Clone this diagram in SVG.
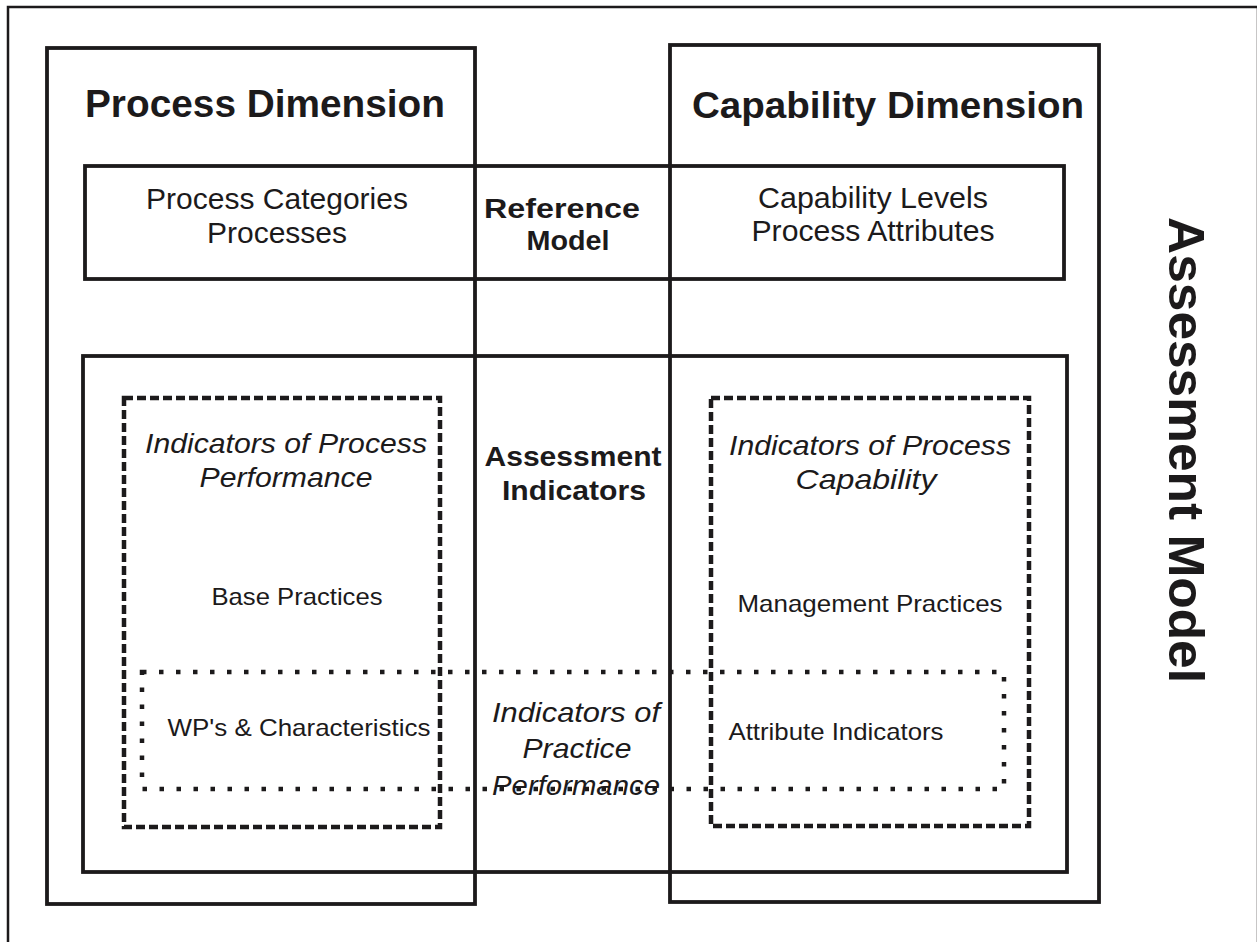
<svg xmlns="http://www.w3.org/2000/svg" width="1257" height="942" viewBox="0 0 1257 942">
<style>
.box{fill:none;stroke:#1c1a1b;stroke-width:3.8}
.frame{fill:none;stroke:#1c1a1b;stroke-width:2.5}
.dash{fill:none;stroke:#1c1a1b;stroke-width:4.5;stroke-dasharray:9 4}
.dot{fill:none;stroke:#1c1a1b;stroke-width:4.5;stroke-dasharray:4.5 12.5}
text{font-family:"Liberation Sans",Arial,sans-serif;fill:#1c1a1b;text-anchor:middle}
.h{font-weight:bold;font-size:38px}
.r{font-size:29px}
.b{font-weight:bold;font-size:27px}
.i{font-style:italic;font-size:28px}
.s{font-size:24px}
</style>
<rect width="1257" height="942" fill="#fff"/>
<g id="assessment-model">
<rect class="frame" x="8" y="7" width="1250" height="960"/>
<text class="h" transform="translate(1169,450) rotate(90)" textLength="466" lengthAdjust="spacingAndGlyphs" style="font-size:50px">Assessment Model</text>
</g>
<g id="process-dimension">
<rect class="box" x="47" y="48" width="428" height="856"/>
<text class="h" x="265" y="117" textLength="360" lengthAdjust="spacingAndGlyphs">Process Dimension</text>
</g>
<g id="capability-dimension">
<rect class="box" x="670" y="45" width="429" height="857"/>
<text class="h" x="888" y="118" textLength="392" lengthAdjust="spacingAndGlyphs" style="font-size:36px">Capability Dimension</text>
</g>
<g id="reference-model">
<rect class="box" x="85" y="166" width="979" height="113"/>
<text class="r" x="277" y="209" textLength="262" lengthAdjust="spacingAndGlyphs">Process Categories</text>
<text class="r" x="277" y="243" textLength="140" lengthAdjust="spacingAndGlyphs">Processes</text>
<text class="b" x="562" y="218" textLength="156" lengthAdjust="spacingAndGlyphs">Reference</text>
<text class="b" x="568" y="250" textLength="83" lengthAdjust="spacingAndGlyphs">Model</text>
<text class="r" x="873" y="208" textLength="230" lengthAdjust="spacingAndGlyphs">Capability Levels</text>
<text class="r" x="873" y="241" textLength="243" lengthAdjust="spacingAndGlyphs">Process Attributes</text>
</g>
<g id="assessment-indicators">
<rect class="box" x="83" y="356" width="984" height="516"/>
<text class="b" x="573" y="466" textLength="177" lengthAdjust="spacingAndGlyphs">Assessment</text>
<text class="b" x="574" y="500" textLength="144" lengthAdjust="spacingAndGlyphs">Indicators</text>
</g>
<g id="process-performance">
<rect class="dash" x="124" y="398" width="316" height="429"/>
<text class="i" x="286" y="453" textLength="282" lengthAdjust="spacingAndGlyphs">Indicators of Process</text>
<text class="i" x="286" y="487" textLength="173" lengthAdjust="spacingAndGlyphs">Performance</text>
<text class="s" x="297" y="605" textLength="171" lengthAdjust="spacingAndGlyphs">Base Practices</text>
</g>
<g id="process-capability">
<rect class="dash" x="711" y="398" width="318" height="428"/>
<text class="i" x="870" y="455" textLength="282" lengthAdjust="spacingAndGlyphs">Indicators of Process</text>
<text class="i" x="866" y="489" textLength="141" lengthAdjust="spacingAndGlyphs">Capability</text>
<text class="s" x="870" y="612" textLength="265" lengthAdjust="spacingAndGlyphs">Management Practices</text>
</g>
<g id="practice-performance">
<rect class="dot" x="142" y="672" width="862" height="117"/>
<text class="s" x="299" y="736" textLength="263" lengthAdjust="spacingAndGlyphs">WP's &amp; Characteristics</text>
<text class="s" x="836" y="740" textLength="215" lengthAdjust="spacingAndGlyphs">Attribute Indicators</text>
<text class="i" x="576" y="722" textLength="168" lengthAdjust="spacingAndGlyphs">Indicators of</text>
<text class="i" x="577" y="758" textLength="109" lengthAdjust="spacingAndGlyphs">Practice</text>
<text class="i" x="576" y="795" textLength="168" lengthAdjust="spacingAndGlyphs">Performance</text>
</g>
<g id="connectors"/>
</svg>
